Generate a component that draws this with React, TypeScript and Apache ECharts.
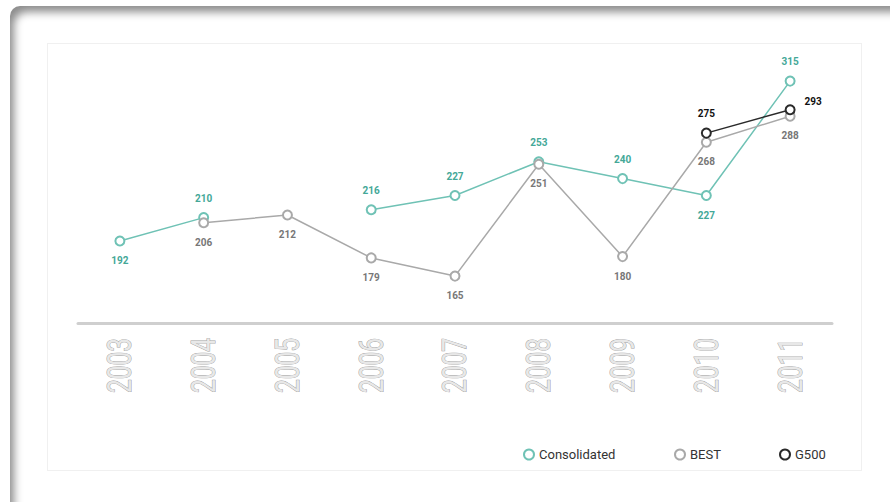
import React, { useEffect, useRef } from "react";
import * as echarts from "echarts";

const years = ["2003", "2004", "2005", "2006", "2007", "2008", "2009", "2010", "2011"];
const consolidated = [192, 210, null, 216, 227, 253, 240, 227, 315];
const best = [null, 206, 212, 179, 165, 251, 180, 268, 288];
const g500 = [null, null, null, null, null, null, null, 275, 293];
const consolidatedBelow = [0, 7];

const TEAL = "#6fc2b5";
const TEAL_TEXT = "#44a898";
const GRAY = "#a9a9a9";
const GRAY_TEXT = "#777";
const DARK = "#2a2a2a";
const FONT = "Roboto, 'Liberation Sans', sans-serif";

export default function App() {
  const ref = useRef<HTMLDivElement>(null);
  useEffect(() => {
    if (!ref.current) return;
    const chart = echarts.init(ref.current, null, { renderer: "svg" });
    const lbl = (color: string) => ({
      show: true,
      fontFamily: FONT,
      fontSize: 10,
      fontWeight: "bold",
      color,
      distance: 9,
    });
    const legendBase = {
      top: 443,
      icon: "emptyCircle",
      itemWidth: 10,
      itemHeight: 10,
      textStyle: { fontFamily: FONT, fontSize: 13, color: "#333" },
    };
    chart.setOption({
      animation: false,
      grid: { left: 78, right: 58, top: 74.6, height: 248.3, containLabel: false },
      legend: [
        { ...legendBase, data: ["Consolidated"], left: 518 },
        { ...legendBase, data: ["BEST"], left: 669 },
        { ...legendBase, data: ["G500"], left: 774 },
      ],
      xAxis: {
        type: "category",
        data: years,
        boundaryGap: true,
        axisTick: { show: false },
        axisLine: { show: true, lineStyle: { color: "#cfcfcf", width: 3 } },
        axisLabel: { show: false },
      },
      yAxis: {
        type: "value",
        min: 129,
        max: 320,
        show: false,
        splitLine: { show: false },
      },
      series: [
        {
          name: "Consolidated",
          type: "line",
          data: consolidated.map((v, i) => ({
            value: v,
            label: { position: consolidatedBelow.includes(i) ? "bottom" : "top" },
          })),
          symbol: "emptyCircle",
          symbolSize: 9,
          connectNulls: false,
          itemStyle: { color: TEAL, borderWidth: 1.5 },
          lineStyle: { color: TEAL, width: 1.5 },
          label: lbl(TEAL_TEXT),
          z: 2,
        },
        {
          name: "BEST",
          type: "line",
          data: best,
          symbol: "emptyCircle",
          symbolSize: 9,
          connectNulls: false,
          itemStyle: { color: GRAY, borderWidth: 1.5 },
          lineStyle: { color: GRAY, width: 1.5 },
          label: { ...lbl(GRAY_TEXT), position: "bottom" },
          z: 3,
        },
        {
          name: "G500",
          type: "line",
          data: g500.map((v, i) => ({
            value: v,
            label: i === g500.length - 1 ? { position: "right", offset: [0, -8] } : { position: "top" },
          })),
          symbol: "emptyCircle",
          symbolSize: 9,
          connectNulls: false,
          itemStyle: { color: DARK, borderWidth: 2 },
          lineStyle: { color: DARK, width: 1.5 },
          label: lbl("#111"),
          z: 4,
        },
      ],
    });
    // condensed rotated year labels placed via the category axis scale
    const axisY = chart.convertToPixel({ yAxisIndex: 0 }, 129) as number;
    chart.setOption({
      graphic: years.map((y) => ({
        type: "text",
        x: chart.convertToPixel({ xAxisIndex: 0 }, y) as number,
        y: axisY + 15,
        rotation: Math.PI / 2,
        scaleX: 0.72,
        scaleY: 1,
        silent: true,
        style: {
          text: y,
          fontFamily: FONT,
          fontSize: 34,
          align: "right",
          verticalAlign: "middle",
          fill: "#e8e8e8",
          stroke: "#9f9f9f",
          lineWidth: 1,
        },
      })),
    });
    return () => chart.dispose();
  }, []);

  return (
    <div style={{ position: "fixed", left: 0, top: 0, width: 890, height: 502, background: "#fff", overflow: "hidden" }}>
      <div
        style={{
          position: "absolute",
          left: 10,
          top: 6,
          width: 900,
          height: 520,
          borderRadius: 10,
          background: "#fff",
          boxShadow: "inset 7px 9px 8px -3px rgba(0,0,0,0.45)",
        }}
      />
      <div
        style={{
          position: "absolute",
          left: 47,
          top: 43,
          width: 813,
          height: 426,
          border: "1px solid #f0f0f0",
          background: "#fff",
        }}
      />
      <div ref={ref} style={{ position: "absolute", left: 0, top: 0, width: 890, height: 502 }} />
    </div>
  );
}
